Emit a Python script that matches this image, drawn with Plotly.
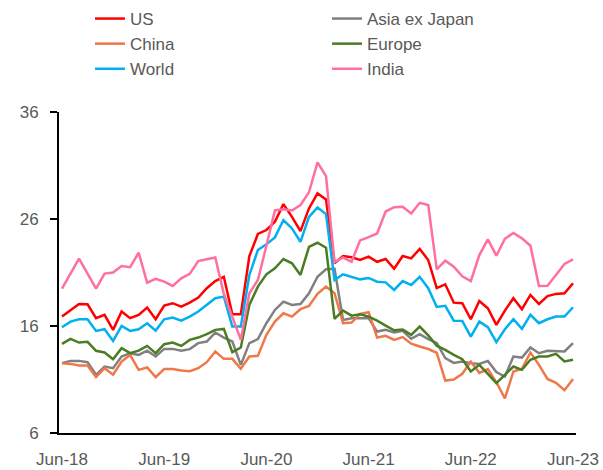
import plotly.graph_objects as go

months = list(range(61))
tick_pos = [0, 12, 24, 36, 48, 60]
tick_text = ["Jun-18", "Jun-19", "Jun-20", "Jun-21", "Jun-22", "Jun-23"]

us = [16.88, 17.5, 18.06, 18.03, 16.73, 17.04, 15.64, 17.35, 16.73, 17.04,
      17.72, 16.63, 17.9, 18.13, 17.81, 18.18, 18.66, 19.53, 20.2, 20.6,
      17.1, 17.1, 22.54, 24.6, 24.97, 25.74, 27.39, 26.2, 24.87, 26.99,
      28.39, 27.83, 21.86, 22.54, 22.42, 22.17, 22.48, 22.0, 22.26, 21.35,
      22.54, 22.32, 23.2, 22.17, 19.55, 19.9, 18.18, 18.13, 16.63, 18.34,
      17.66, 16.1, 17.44, 18.6, 17.57, 18.9, 18.06, 18.8, 19.0, 19.06, 20.0]
world = [15.89, 16.41, 16.63, 16.63, 15.54, 15.7, 14.61, 16.0, 15.54, 15.7,
         16.26, 15.57, 16.63, 16.79, 16.5, 16.88, 17.35, 17.97, 18.6, 18.75,
         15.95, 15.95, 20.77, 23.1, 23.63, 24.28, 25.9, 25.12, 23.87, 26.2,
         27.08, 26.46, 20.3, 20.83, 20.6, 20.36, 20.49, 20.14, 20.08, 19.37,
         20.2, 19.83, 20.6, 19.53, 17.78, 17.88, 16.5, 16.48, 15.0, 16.41,
         15.89, 14.49, 15.7, 16.63, 15.73, 17.04, 16.26, 16.63, 16.88, 16.88, 17.75]
europe = [14.33, 14.8, 14.45, 14.52, 13.68, 13.52, 12.9, 13.93, 13.46, 13.7,
          14.14, 13.46, 14.3, 14.45, 14.14, 14.7, 14.92, 15.24, 15.64, 15.73,
          13.56, 13.99, 17.97, 19.68, 20.83, 21.39, 22.26, 21.86, 20.77, 23.4,
          23.78, 23.31, 16.66, 17.44, 16.97, 17.1, 16.88, 16.5, 16.04, 15.6,
          15.67, 15.17, 15.95, 15.12, 14.16, 13.77, 13.3, 12.9, 11.75, 12.37,
          11.53, 10.66, 11.44, 12.21, 11.9, 12.84, 13.15, 13.15, 13.4, 12.68, 12.84]
asia_ex_japan = [12.53, 12.74, 12.74, 12.62, 11.44, 12.21, 12.06, 13.15, 13.46, 13.3,
                 13.7, 13.15, 13.86, 13.86, 13.68, 13.84, 14.4, 14.55, 15.39, 14.92,
                 14.55, 12.37, 14.4, 14.77, 16.26, 17.5, 18.28, 17.97, 18.06, 19.06,
                 20.6, 21.3, 21.35, 16.57, 16.73, 16.73, 16.73, 15.48, 15.64, 15.4,
                 15.55, 14.8, 15.24, 14.77, 14.42, 13.0, 12.55, 12.68, 12.53, 12.46,
                 12.74, 11.7, 11.28, 13.15, 13.05, 13.99, 13.46, 13.68, 13.62, 13.62, 14.4]
china = [12.53, 12.46, 12.3, 12.3, 11.22, 12.06, 11.44, 12.68, 13.3, 11.9,
         12.12, 11.22, 11.97, 11.97, 11.84, 11.78, 12.06, 12.62, 13.62, 12.93,
         12.93, 12.0, 13.15, 13.21, 15.17, 16.41, 17.19, 16.88, 17.57, 17.88,
         19.0, 19.68, 19.06, 16.26, 16.32, 17.13, 17.29, 14.92, 15.08, 14.7,
         14.96, 14.35, 14.08, 13.85, 13.5, 10.9, 11.0, 11.53, 12.68, 11.62,
         11.98, 10.74, 9.23, 11.75, 12.0, 13.52, 12.37, 11.05, 10.69, 10.0, 11.04]
india = [19.5, 20.9, 22.3, 20.9, 19.5, 20.9, 21.0, 21.6, 21.5, 22.85,
         20.05, 20.4, 20.15, 19.75, 20.45, 20.87, 22.07, 22.23, 22.4, 19.0,
         16.8, 14.7, 19.06, 20.3, 23.5, 26.8, 26.9, 26.8, 27.3, 28.5,
         31.3, 30.0, 21.95, 22.4, 22.0, 24.0, 24.3, 24.65, 26.7, 27.1,
         27.14, 26.52, 27.51, 27.3, 21.3, 22.1, 21.55, 20.65, 20.2, 22.63,
         24.1, 22.57, 24.15, 24.7, 24.19, 23.5, 19.74, 19.77, 20.77, 21.8, 22.23]

# legend fills row by row, so interleave the two columns
series = [
    ("US", us, "#ff0000"),
    ("Asia ex Japan", asia_ex_japan, "#808080"),
    ("China", china, "#f07848"),
    ("Europe", europe, "#4a7d23"),
    ("World", world, "#00b0f0"),
    ("India", india, "#ff6f9f"),
]

fig = go.Figure()
for name, vals, col in series:
    fig.add_trace(go.Scatter(x=months, y=vals, mode="lines", name=name,
                             line=dict(color=col, width=2.5)))

grey = "#595959"
fig.update_layout(
    width=603, height=470,
    margin=dict(l=59, r=27, t=112, b=37, autoexpand=False),
    plot_bgcolor="white", paper_bgcolor="white",
    font=dict(family="Liberation Sans, Arial, sans-serif", size=17, color=grey),
    legend=dict(orientation="h", xref="container", yref="paper",
                x=90 / 603, y=1 + 111 / 321, xanchor="left", yanchor="top",
                entrywidth=192, entrywidthmode="pixels",
                font=dict(size=17, color=grey), bgcolor="rgba(0,0,0,0)"),
)
fig.update_xaxes(range=[-0.35, 60.35], tickvals=tick_pos, ticktext=tick_text,
                 showgrid=False, zeroline=False, showline=True, linecolor="black",
                 linewidth=2, ticks="outside", ticklen=10, tickcolor="rgba(0,0,0,0)")
fig.update_yaxes(range=[6, 36], tickvals=[6, 16, 26, 36], showgrid=False,
                 zeroline=False, showline=True, linecolor="black", linewidth=2,
                 ticks="outside", ticklen=7, tickwidth=2, tickcolor="black",
                 ticklabelstandoff=8)

# the page body has a default 8px margin; drop it so the chart sits at 0,0
fig.write_html("out.html", config={"displayModeBar": False},
               post_script="document.body.style.margin='0';")
